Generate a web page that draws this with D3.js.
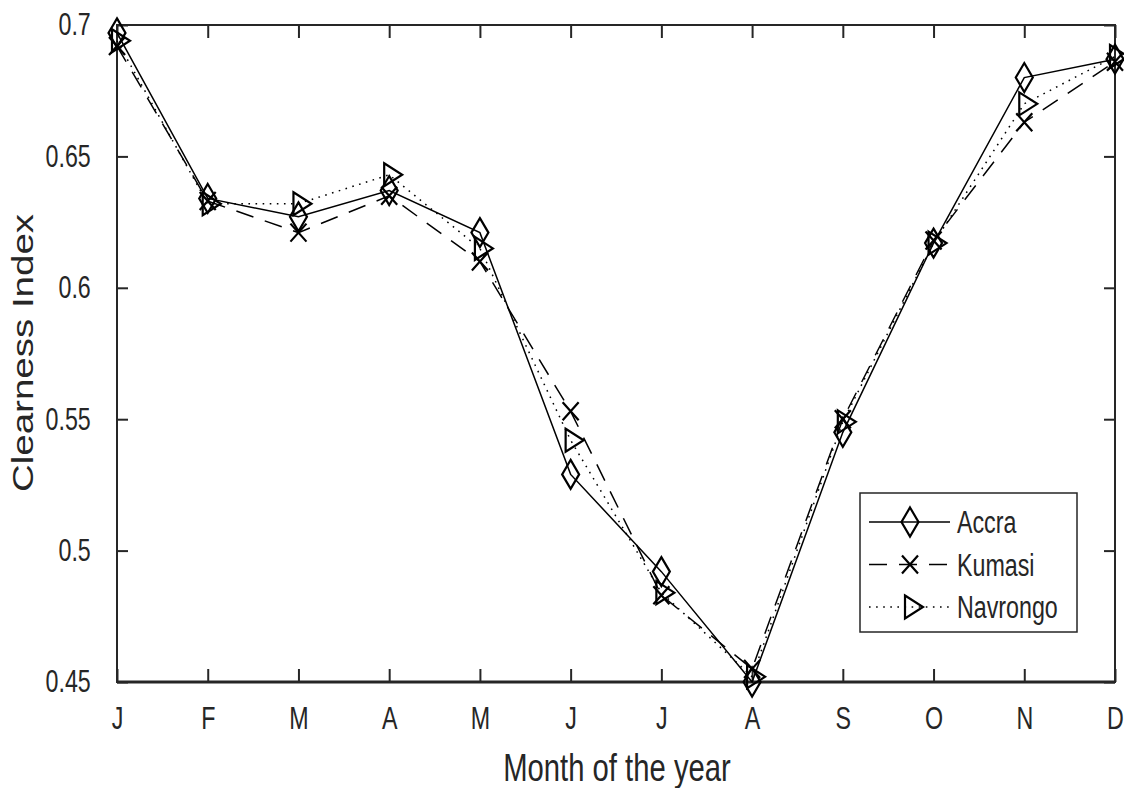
<!DOCTYPE html>
<html lang="en">
  <head>
    <meta charset="utf-8">
    <script src="https://d3js.org/d3.v7.min.js"></script>
    <title>Clearness Index</title>
    <style>
      body { margin:0; background:#fff; }
      text { font-family:"Liberation Sans", Arial, sans-serif; fill:#262626; }
    </style>
  </head>
  <body>
    <script>

      // data

      var months=["J","F","M","A","M","J","J","A","S","O","N","D"];
      var accra   =[0.697,0.634,0.627,0.637,0.621,0.529,0.492,0.450,0.545,0.617,0.680,0.687];
      var kumasi  =[0.692,0.633,0.621,0.635,0.610,0.553,0.483,0.455,0.550,0.618,0.663,0.686];
      var navrongo=[0.694,0.632,0.632,0.643,0.615,0.542,0.484,0.452,0.549,0.617,0.670,0.688];
      var yTicks=[0.45,0.5,0.55,0.6,0.65,0.7];
      var seriesNames=["Accra","Kumasi","Navrongo"];

      var width=1124, height=788;
      var plotL=117, plotR=1115, plotT=25, plotB=682;
      var squeeze=0.75;   // text looks horizontally compressed

      var svg=d3.select("body").append("svg")
        .attr("width",width).attr("height",height);

      // scales
      var idx=d3.range(months.length);
      var x=d3.scalePoint().domain(idx).range([plotL,plotR]);
      var y=d3.scaleLinear().domain([0.45,0.7]).range([plotB,plotT]);

      var ink="#262626";

      // axes
      var xAxis=d3.axisBottom(x).tickSizeInner(-13).tickSizeOuter(0).tickPadding(25)
        .tickFormat(function(i){return months[i];});
      svg.append("g").attr("transform","translate(0,"+plotB+")").call(xAxis);

      var yAxis=d3.axisLeft(y).tickValues(yTicks).tickSizeInner(-11).tickSizeOuter(0)
        .tickPadding(35).tickFormat(d3.format(""));
      svg.append("g").attr("transform","translate("+plotL+",0)").call(yAxis);

      var xTop=d3.axisTop(x).tickSizeInner(-13).tickSizeOuter(0).tickFormat("");
      svg.append("g").attr("transform","translate(0,"+plotT+")").call(xTop);
      var yRight=d3.axisRight(y).tickValues(yTicks).tickSizeInner(-11).tickSizeOuter(0).tickFormat("");
      svg.append("g").attr("transform","translate("+plotR+",0)").call(yRight);

      svg.selectAll(".domain").remove();
      svg.selectAll(".tick line").attr("stroke",ink).attr("stroke-width",2);
      svg.selectAll(".tick text").attr("fill",ink).style("font-size","31px")
        .attr("transform","scale("+squeeze+",1)");

      // box
      svg.append("rect").attr("x",plotL).attr("y",plotT)
        .attr("width",plotR-plotL).attr("height",plotB-plotT)
        .attr("fill","none").attr("stroke",ink).attr("stroke-width",2);
      svg.append("line").attr("x1",plotL).attr("x2",plotR).attr("y1",plotB).attr("y2",plotB)
        .attr("stroke",ink).attr("stroke-width",3);

      // axis titles
      svg.append("text").attr("transform","translate(617,781) scale("+squeeze+",1)")
        .attr("text-anchor","middle").style("font-size","39px").text("Month of the year");
      svg.append("text").attr("transform","translate(33,353) rotate(-90) scale(1,"+squeeze+")")
        .attr("text-anchor","middle").style("font-size","38.5px").text("Clearness Index");

      // markers
      var markers={
        Accra:"M0,-14.5L8.5,0L0,14.5L-8.5,0Z",
        Kumasi:"M-8,-9L8,9M-8,9L8,-9",
        Navrongo:"M-5,-11.5L13,0L-5,11.5Z"
      };
      var dashes={Accra:null, Kumasi:"18,12", Navrongo:"1.6,5.5"};
      var values={Accra:accra, Kumasi:kumasi, Navrongo:navrongo};

      var line=d3.line().x(function(d,i){return x(i);}).y(function(d){return y(d);});

      seriesNames.forEach(function(name){
        var g=svg.append("g");
        g.append("path").datum(values[name]).attr("d",line)
          .attr("fill","none").attr("stroke","#000").attr("stroke-width",1.5)
          .attr("stroke-dasharray",dashes[name]);
        g.selectAll("path.mk").data(values[name]).enter().append("path").attr("class","mk")
          .attr("transform",function(d,i){return "translate("+x(i)+","+y(d)+")";})
          .attr("d",markers[name])
          .attr("fill","none").attr("stroke","#000").attr("stroke-width",2.2);
      });

      // legend
      var lg=svg.append("g");
      lg.append("rect").attr("x",860).attr("y",493).attr("width",217).attr("height",139)
        .attr("fill","#fff").attr("stroke",ink).attr("stroke-width",1.5);
      var rowY=d3.scalePoint().domain(seriesNames).range([522,607]);
      seriesNames.forEach(function(name){
        var yy=rowY(name);
        lg.append("line").attr("x1",869).attr("x2",950).attr("y1",yy).attr("y2",yy)
          .attr("stroke","#000").attr("stroke-width",1.5).attr("stroke-dasharray",dashes[name]);
        lg.append("path").attr("transform","translate(910,"+yy+")").attr("d",markers[name])
          .attr("fill","none").attr("stroke","#000").attr("stroke-width",2.2);
        lg.append("text").attr("transform","translate(957,"+(yy+11)+") scale("+squeeze+",1)")
          .style("font-size","31px").text(name);
      });

    </script>
  </body>
</html>
